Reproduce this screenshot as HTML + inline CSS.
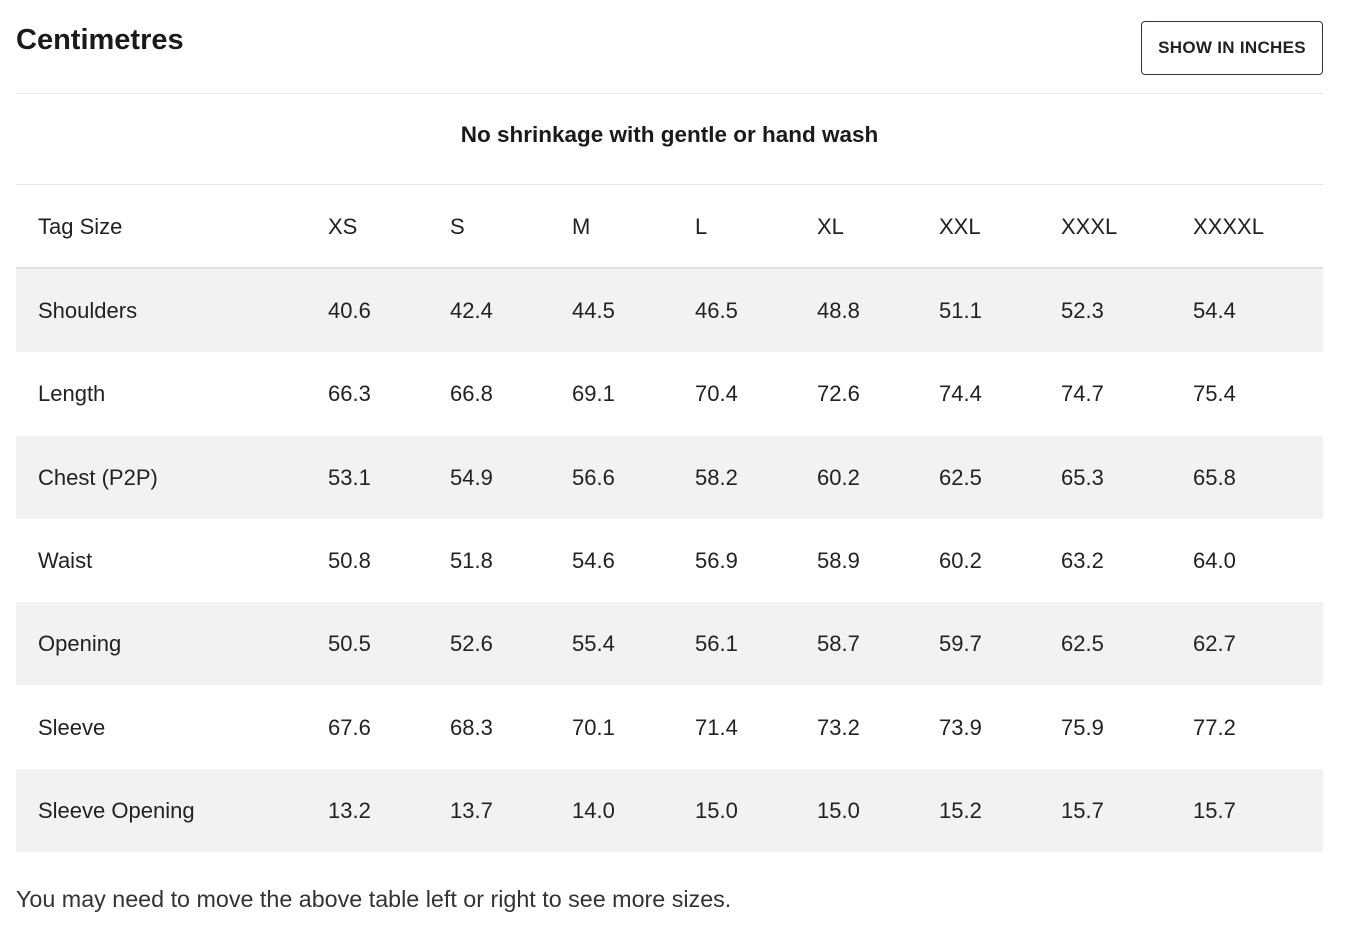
<!DOCTYPE html>
<html><head><meta charset="utf-8"><style>
body{margin:0;width:1346px;height:950px;background:#fff;font-family:"Liberation Sans",sans-serif;color:#222;position:relative;overflow:hidden}
.abs{position:absolute}
.title{left:16px;top:24px;font-size:29px;font-weight:bold;color:#1a1a1a}
.btn{left:1141px;top:21px;width:180px;height:52px;border:1px solid #333;border-radius:4px;font-size:17px;font-weight:bold;display:flex;align-items:center;justify-content:center;color:#222;letter-spacing:0.3px}
.hr{left:16px;width:1307px;height:1px;background:#e6e6e6}
.sub{left:16px;width:1307px;top:122px;text-align:center;font-size:22.5px;font-weight:bold;color:#1a1a1a}
.row{left:16px;width:1307px;height:83px}
.row.sh{background:#f2f2f2}
.cell{position:absolute;top:0;line-height:83px;font-size:22px;color:#222;white-space:nowrap}
.foot{left:16px;top:886px;font-size:23.3px;color:#333}
</style></head><body>
<div class="abs title">Centimetres</div>
<div class="abs btn">SHOW IN INCHES</div>
<div class="abs hr" style="top:93px"></div>
<div class="abs sub">No shrinkage with gentle or hand wash</div>
<div class="abs hr" style="top:184px"></div>
<div id="tbl"></div>
<div class="abs foot">You may need to move the above table left or right to see more sizes.</div>
<script>
const sizes=["XS","S","M","L","XL","XXL","XXXL","XXXXL"];
const labels=["Shoulders","Length","Chest (P2P)","Waist","Opening","Sleeve","Sleeve Opening"];
const values=[
["40.6","42.4","44.5","46.5","48.8","51.1","52.3","54.4"],
["66.3","66.8","69.1","70.4","72.6","74.4","74.7","75.4"],
["53.1","54.9","56.6","58.2","60.2","62.5","65.3","65.8"],
["50.8","51.8","54.6","56.9","58.9","60.2","63.2","64.0"],
["50.5","52.6","55.4","56.1","58.7","59.7","62.5","62.7"],
["67.6","68.3","70.1","71.4","73.2","73.9","75.9","77.2"],
["13.2","13.7","14.0","15.0","15.0","15.2","15.7","15.7"]];
const colX=[312,434,556,679,801,923,1045,1177];
const tbl=document.getElementById('tbl');
function mkRow(top,label,cells,shade,name){
  const r=document.createElement('div');
  r.className='abs row'+(shade?' sh':'');
  r.style.top=top+'px';
  
  
  const l=document.createElement('div');l.className='cell';l.style.left='22px';l.textContent=label;
  
  
  r.appendChild(l);
  cells.forEach((v,i)=>{const c=document.createElement('div');c.className='cell';c.style.left=colX[i]+'px';c.textContent=v;
    
    
    r.appendChild(c);});
  tbl.appendChild(r);
}
mkRow(185,"Tag Size",sizes,false,"header-row");
const line=document.createElement('div');line.className='abs hr';line.style.top='267px';line.style.height='2px';line.style.background='#e0e0e0';


tbl.appendChild(line);
labels.forEach((lb,i)=>mkRow(269+i*83.3,lb,values[i],i%2===0,lb.toLowerCase().replace(/[^a-z0-9]+/g,'-').replace(/-$/,'')+'-row'));
</script>
</body></html>
